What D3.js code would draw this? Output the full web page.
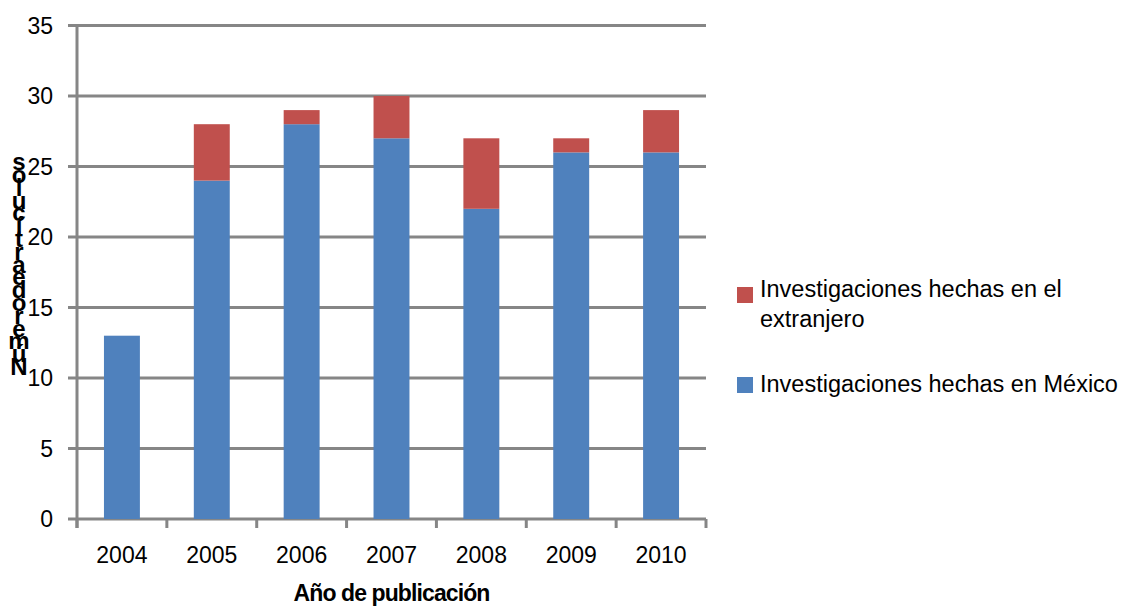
<!DOCTYPE html>
<html lang="es">
<head>
    <meta charset="UTF-8">
    <title>Artículos por año</title>
    <script src="https://d3js.org/d3.v7.min.js"></script>
    <style>
        body { margin: 0; background: white; }
        svg { display: block; font-family: "Liberation Sans", Arial, sans-serif; }
    </style>
</head>
<body>
    <svg></svg>
    <script>
        // Data
        var years = ["2004", "2005", "2006", "2007", "2008", "2009", "2010"];
        var mexico = [13, 24, 28, 27, 22, 26, 26];
        var extranjero = [0, 4, 1, 3, 5, 1, 3];
        var yTicks = [0, 5, 10, 15, 20, 25, 30, 35];
        var seriesNames = ["Investigaciones hechas en México", "Investigaciones hechas en el extranjero"];
        var colors = ["#4F81BD", "#C0504D"];

        var width = 1128, height = 607;
        var svg = d3.select("svg").attr("width", width).attr("height", height);

        var plotLeft = 77, plotRight = 706, plotTop = 25.5, plotBottom = 519;
        var grid = "#868686";

        var x = d3.scaleBand().domain(years).range([plotLeft, plotRight]).paddingInner(0.6).paddingOuter(0.3);
        var y = d3.scaleLinear().domain([0, 35]).range([plotBottom, plotTop]);

        // Gridlines (include the zero line)
        svg.append("g").selectAll("line")
            .data(yTicks).enter().append("line")
            .attr("x1", plotLeft - 9).attr("x2", plotRight)
            .attr("y1", d => y(d)).attr("y2", d => y(d))
            .attr("stroke", grid).attr("stroke-width", 3);

        // Stacked bars
        var rows = years.map(function(yr, i) {
            return {year: yr, mexico: mexico[i], extranjero: extranjero[i]};
        });
        var stack = d3.stack().keys(["mexico", "extranjero"])(rows);
        svg.append("g").selectAll("g")
            .data(stack).enter().append("g")
            .attr("fill", (d, i) => colors[i])
            .selectAll("rect")
            .data(d => d).enter().append("rect")
            .attr("x", d => x(d.data.year))
            .attr("width", x.bandwidth())
            .attr("y", d => y(d[1]))
            .attr("height", d => y(d[0]) - y(d[1]));

        // Y axis line and x ticks
        svg.append("line")
            .attr("x1", plotLeft).attr("x2", plotLeft)
            .attr("y1", plotTop - 1.5).attr("y2", plotBottom + 9)
            .attr("stroke", grid).attr("stroke-width", 3);
        var step = x.step();
        svg.append("g").selectAll("line")
            .data(d3.range(years.length + 1)).enter().append("line")
            .attr("x1", d => plotLeft + d * step).attr("x2", d => plotLeft + d * step)
            .attr("y1", plotBottom).attr("y2", plotBottom + 9)
            .attr("stroke", grid).attr("stroke-width", 3);

        // Y tick labels
        svg.append("g").selectAll("text")
            .data(yTicks).enter().append("text")
            .attr("x", 53).attr("y", d => y(d) + 8)
            .attr("text-anchor", "end")
            .style("font-size", "23px").attr("fill", "#000")
            .text(d => d);

        // X tick labels
        svg.append("g").selectAll("text")
            .data(years).enter().append("text")
            .attr("x", d => x(d) + x.bandwidth() / 2).attr("y", 563)
            .attr("text-anchor", "middle")
            .style("font-size", "23px").attr("fill", "#000")
            .text(d => d);

        // X axis title
        svg.append("text")
            .attr("x", (plotLeft + plotRight) / 2).attr("y", 601)
            .attr("text-anchor", "middle")
            .style("font-size", "23px").style("font-weight", "bold")
            .style("letter-spacing", "-0.9px")
            .text("Año de publicación");

        // Y axis title: stacked characters, read bottom to top
        var yTitle = "Númerodeartículos".split("");
        svg.append("g").selectAll("text")
            .data(yTitle).enter().append("text")
            .attr("x", 19).attr("y", (d, i) => 375 - i * 12.8)
            .attr("text-anchor", "middle")
            .style("font-size", "24px").style("font-weight", "bold")
            .text(d => d);

        // Legend
        var legend = svg.append("g");
        legend.append("rect").attr("x", 737).attr("y", 287).attr("width", 16).attr("height", 16).attr("fill", colors[1]);
        legend.append("text").attr("x", 760).attr("y", 297).style("font-size", "23.5px").text("Investigaciones hechas en el");
        legend.append("text").attr("x", 760).attr("y", 327).style("font-size", "23.5px").text("extranjero");
        legend.append("rect").attr("x", 737).attr("y", 377).attr("width", 16).attr("height", 16).attr("fill", colors[0]);
        legend.append("text").attr("x", 760).attr("y", 392).style("font-size", "23.5px").text(seriesNames[0]);
    </script>
</body>
</html>
